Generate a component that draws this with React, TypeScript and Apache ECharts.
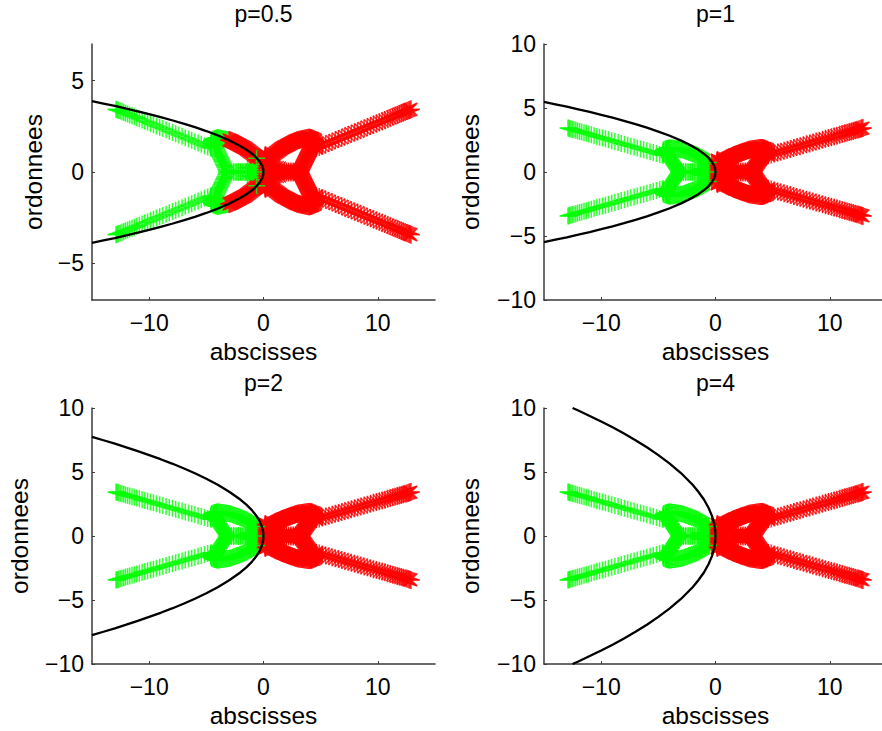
import React, { useEffect, useRef } from "react";
import * as echarts from "echarts";

const titles = ["p=0.5", "p=1", "p=2", "p=4"];
const pValues = [0.5, 1, 2, 4];
const yLimits = [7, 10, 10, 10];
const xTicks = [-10, 0, 10];
const yTicksByPanel = [[-5, 0, 5], [-10, -5, 0, 5, 10], [-10, -5, 0, 5, 10], [-10, -5, 0, 5, 10]];

// Parabola branches: depth behind the vertex and half-opening
const curveDepth = [15, 14, 13, 12, 11, 10, 9, 8, 7, 6, 5, 4, 3, 2, 1.5, 1, 0.6, 0.3, 0.1, 0.03, 0];
const curveHalf05 = [3.87, 3.74, 3.61, 3.46, 3.32, 3.16, 3, 2.83, 2.65, 2.45, 2.24, 2, 1.73, 1.41, 1.22, 1, 0.77, 0.55, 0.32, 0.17, 0];
const curveHalf1 = [5.48, 5.29, 5.1, 4.9, 4.69, 4.47, 4.24, 4, 3.74, 3.46, 3.16, 2.83, 2.45, 2, 1.73, 1.41, 1.1, 0.77, 0.45, 0.24, 0];
const curveHalf2 = [7.75, 7.48, 7.21, 6.93, 6.63, 6.32, 6, 5.66, 5.29, 4.9, 4.47, 4, 3.46, 2.83, 2.45, 2, 1.55, 1.1, 0.63, 0.35, 0];
const curveDepth4 = [12.5, 12, 11, 10, 9, 8, 7, 6, 5, 4, 3, 2, 1.5, 1, 0.6, 0.3, 0.1, 0.03, 0];
const curveHalf4 = [10, 9.8, 9.38, 8.94, 8.49, 8, 7.48, 6.93, 6.32, 5.66, 4.9, 4, 3.46, 2.83, 2.19, 1.55, 0.89, 0.49, 0];

// Marker trace, one quadrant (|x|, |y|)
const armX = [4.6, 4.88, 5.16, 5.44, 5.72, 6, 6.28, 6.56, 6.84, 7.12, 7.4, 7.68, 7.96, 8.24, 8.52, 8.8, 9.08, 9.36, 9.62, 9.88, 10.14, 10.38, 10.62, 10.86, 11.08, 11.3, 11.5, 11.7, 11.88, 12.06, 12.22, 12.38, 12.52, 12.64, 12.74, 12.82, 12.9];
const armY = [1.3, 1.37, 1.44, 1.52, 1.59, 1.66, 1.73, 1.8, 1.87, 1.95, 2.02, 2.09, 2.16, 2.23, 2.31, 2.38, 2.45, 2.52, 2.59, 2.65, 2.72, 2.78, 2.84, 2.91, 2.96, 3.02, 3.07, 3.12, 3.17, 3.21, 3.26, 3.3, 3.33, 3.36, 3.39, 3.41, 3.43];
const capX = [4.6, 4.6, 4.6, 4.58, 4.55, 4.5, 4.4, 4.3, 4.2];
const capY = [1.35, 1.45, 1.55, 1.65, 1.72, 1.76, 1.8, 1.83, 1.85];
const lobeX = [4.35, 4.33, 4.3, 4.25, 4.2, 4.15, 4.1, 4.05, 4, 3.92, 3.85, 3.78, 3.7, 3.62, 3.55, 3.48, 3.4, 3.32, 3.25, 3.18, 3.1, 3.02, 2.95, 2.88, 2.8, 2.72, 2.65, 2.58, 2.5, 2.42, 2.35, 2.28, 2.2, 2.12, 2.05, 1.98, 1.9, 1.82, 1.75, 1.68, 1.6, 1.52, 1.45, 1.38, 1.3, 1.22, 1.15, 1.08, 1, 0.92, 0.85, 0.78, 0.7, 0.62, 0.55];
const lobeY = [1.55, 1.62, 1.72, 1.78, 1.82, 1.84, 1.86, 1.87, 1.87, 1.87, 1.86, 1.85, 1.84, 1.83, 1.82, 1.81, 1.8, 1.79, 1.78, 1.77, 1.76, 1.75, 1.73, 1.72, 1.7, 1.68, 1.65, 1.63, 1.6, 1.58, 1.55, 1.53, 1.5, 1.48, 1.45, 1.43, 1.4, 1.38, 1.35, 1.33, 1.3, 1.27, 1.23, 1.2, 1.16, 1.13, 1.09, 1.06, 1.02, 0.98, 0.94, 0.9, 0.86, 0.83, 0.8];
const innerX = [4.3, 4.25, 4.2, 4.15, 4.1, 4.05, 4, 3.95, 3.9, 3.85, 3.8, 3.75, 3.7, 3.65, 3.6, 3.55, 3.5, 3.45, 3.4, 3.35, 3.3, 3.25, 3.2];
const innerY = [1.48, 1.41, 1.35, 1.28, 1.22, 1.15, 1.09, 1.02, 0.96, 0.89, 0.83, 0.76, 0.7, 0.63, 0.57, 0.5, 0.43, 0.37, 0.3, 0.24, 0.17, 0.11, 0.05];
const barX = [3.2, 3, 2.8, 2.6, 2.4, 2.2, 2, 1.8, 1.6, 1.45, 1.3, 1.15, 1, 0.85, 0.7, 0.55];
const barY = [0.03, 0.03, 0.03, 0.03, 0.03, 0.03, 0.03, 0.03, 0.03, 0.03, 0.03, 0.03, 0.03, 0.03, 0.03, 0.03];
const hubX = [1.4, 1.2, 1, 0.8, 0.6, 0.4];
const hubY = [0.22, 0.25, 0.25, 0.25, 0.22, 0.2];
// column at the vertex, right side only
const stemX = [0.15, 0.15, 0.15, 0.15, 0.15, 0.15, 0.15, 0.15, 0.2, 0.3, 0.4];
const stemY = [0.92, 0.88, 0.8, 0.65, 0.5, 0.35, 0.2, 0.05, 0.9, 0.86, 0.82];
const tipX = [-0.6, -0.6, -0.6];
const tipY = [0.75, 0, -0.75];

const pairs = (xs: number[], ys: number[]) => xs.map((x, i) => [x, ys[i]]);

const star = "path://M0 8L16 8M8 0L8 16M2.3 2.3L13.7 13.7M2.3 13.7L13.7 2.3";
const plus = "path://M0 8L16 8M8 0L8 16";
const RED = "#ff0000";
const GREEN = "#00ff00";

function markerItem(x: number, y: number, p: number) {
  const inside = x < 0 && y * y < 2 * p * -x;
  const color = inside ? GREEN : RED;
  return {
    value: [x, y],
    symbol: inside ? plus : star,
    symbolSize: inside ? 17 : 18,
    itemStyle: { color: "none", borderColor: color, borderWidth: 1.5 },
  };
}

function markers(p: number) {
  const quadrant = [
    ...pairs(armX, armY),
    ...pairs(capX, capY),
    ...pairs(innerX, innerY),
    ...pairs(barX, barY),
    ...pairs(hubX, hubY),
    ...pairs(lobeX, lobeY),
  ];
  const out: any[] = [];
  const add = (list: number[][], sx: number, sy: number) =>
    list.forEach(([x, y]) => out.push(markerItem(sx * x, sy * y, p)));
  add(quadrant, 1, 1);
  add(quadrant, 1, -1);
  add(quadrant, -1, 1);
  add(quadrant, -1, -1);
  add(pairs(stemX, stemY), 1, 1);
  add(pairs(stemX, stemY), 1, -1);
  pairs(tipX, tipY).forEach(([x, y]) => out.push(markerItem(x, y, 4)));
  return out;
}

function curve(depth: number[], half: number[]) {
  const top = depth.map((d, i) => [-d, half[i]]);
  const bottom = depth.map((d, i) => [-d, -half[i]]).reverse();
  return [...top, ...bottom];
}

const curves = [
  curve(curveDepth, curveHalf05),
  curve(curveDepth, curveHalf1),
  curve(curveDepth, curveHalf2),
  curve(curveDepth4, curveHalf4),
];

const gridLeft = [92, 544, 92, 544];
const gridTop = [44, 44, 408, 408];
const gridWidth = 343;
const gridHeight = 256;
const nameGaps = [46, 61, 60, 61];
const titleTops = [2, 2, 371, 371];
const FONT = "'Liberation Sans', Arial, sans-serif";
const AXIS = "#3a3a3a";
const fmt = (v: number) => String(v).replace("-", "\u2212");

function buildOption() {
  const axisCommon = {
    nameLocation: "middle" as const,
    nameTextStyle: { fontFamily: FONT, fontSize: 24.5, color: "#000" },
    axisLine: { onZero: false, lineStyle: { color: AXIS, width: 1.5 } },
    splitLine: { show: false },
  };
  return {
    animation: false,
    backgroundColor: "#fff",
    title: titles.map((text, i) => ({
      text,
      left: gridLeft[i] + gridWidth / 2,
      top: titleTops[i],
      padding: 0,
      textAlign: "center",
      textStyle: { fontFamily: FONT, fontSize: 23, fontWeight: "normal", color: "#000" },
    })),
    grid: gridLeft.map((left, i) => ({ left, top: gridTop[i], width: gridWidth, height: gridHeight })),
    xAxis: titles.map((_, i) => ({
      ...axisCommon,
      type: "value",
      gridIndex: i,
      min: -15,
      max: 15,
      name: "abscisses",
      nameGap: 39,
      axisTick: { inside: true, length: 3, customValues: xTicks, lineStyle: { color: AXIS } },
      axisLabel: { customValues: xTicks, formatter: fmt, fontFamily: FONT, fontSize: 23, color: "#000", margin: 11 },
    })),
    yAxis: titles.map((_, i) => ({
      ...axisCommon,
      type: "value",
      gridIndex: i,
      min: -yLimits[i],
      max: yLimits[i],
      name: "ordonnees",
      nameGap: nameGaps[i],
      axisTick: { inside: true, length: 3, customValues: yTicksByPanel[i], lineStyle: { color: AXIS } },
      axisLabel: { customValues: yTicksByPanel[i], formatter: fmt, fontFamily: FONT, fontSize: 23, color: "#000", margin: 8 },
    })),
    series: titles.flatMap((_, i) => [
      {
        type: "scatter",
        xAxisIndex: i,
        yAxisIndex: i,
        silent: true,
        data: markers(pValues[i]),
        z: 2,
      },
      {
        type: "line",
        xAxisIndex: i,
        yAxisIndex: i,
        showSymbol: false,
        silent: true,
        lineStyle: { color: "#000", width: 2.3 },
        data: curves[i],
        z: 3,
      },
    ]),
  };
}

export default function App() {
  const ref = useRef<HTMLDivElement>(null);
  useEffect(() => {
    const chart = echarts.init(ref.current!, undefined, { renderer: "svg" });
    chart.setOption(buildOption() as any);
    return () => chart.dispose();
  }, []);
  return (
    <div style={{ position: "fixed", left: 0, top: 0, width: 882, height: 731, overflow: "hidden" }}>
      <div ref={ref} style={{ width: 900, height: 731 }} />
    </div>
  );
}
